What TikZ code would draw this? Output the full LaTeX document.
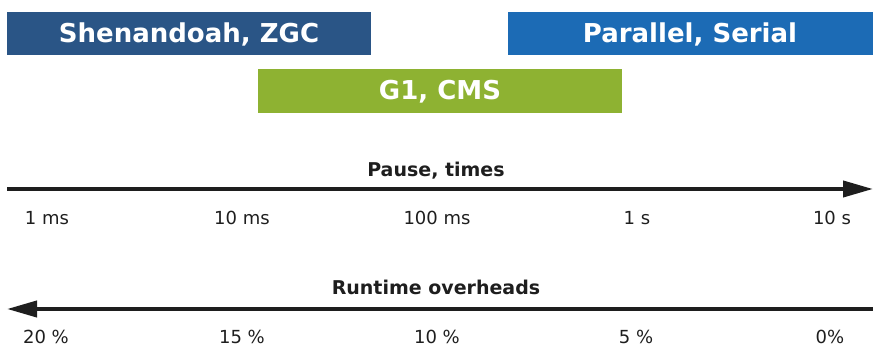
\documentclass[tikz,border=0pt]{standalone}
\usepackage{fontspec}
\setmainfont{DejaVu Sans}
\usetikzlibrary{arrows.meta}
\definecolor{darkblue}{HTML}{2A5586}
\definecolor{midblue}{HTML}{1C6BB5}
\definecolor{gcgreen}{HTML}{8EB232}
\definecolor{axisblack}{HTML}{1E1E1E}
\tikzset{
  gcbox/.style={draw=none, inner sep=0pt, anchor=base, font=\fontsize{26}{30}\selectfont\bfseries, text=white},
  axistitle/.style={inner sep=0pt, anchor=base, font=\fontsize{19}{22}\selectfont\bfseries, text=axisblack},
  ticklabel/.style={inner sep=0pt, anchor=base, font=\fontsize{18}{22}\selectfont, text=axisblack},
  axisline/.style={draw=axisblack, line width=4pt, -{Triangle[length=30pt,width=16pt]}}
}
\begin{document}
\begin{tikzpicture}[x=1pt,y=-1pt]
\useasboundingbox (0,0) rectangle (873,347);
% boxes
\fill[darkblue] (7,12) rectangle (371,55);
\node[gcbox] (shen) at (189,43) {Shenandoah, ZGC};
\fill[midblue] (508,12) rectangle (873,55);
\node[gcbox] (par) at (690,43) {Parallel, Serial};
\fill[gcgreen] (258,69) rectangle (622,113);
\node[gcbox] (g1) at (440,100) {G1, CMS};
% pause axis
\coordinate (p0) at (7,189);
\coordinate (p1) at (873,189);
\draw[axisline] (p0) -- (p1);
\node[axistitle] (ptitle) at (436,177) {Pause, times};
\node[ticklabel] (t1) at (47,225) {1 ms};
\node[ticklabel] (t2) at (242,225) {10 ms};
\node[ticklabel] (t3) at (437,225) {100 ms};
\node[ticklabel] (t4) at (637,225) {1 s};
\node[ticklabel] (t5) at (832,225) {10 s};
% runtime axis
\coordinate (r0) at (873,309);
\coordinate (r1) at (7,309);
\draw[axisline] (r0) -- (r1);
\node[axistitle] (rtitle) at (436,295) {Runtime overheads};
\node[ticklabel] (u1) at (46,344) {20 \%};
\node[ticklabel] (u2) at (242,344) {15 \%};
\node[ticklabel] (u3) at (437,344) {10 \%};
\node[ticklabel] (u4) at (636,344) {5 \%};
\node[ticklabel] (u5) at (830,344) {0\%};
\end{tikzpicture}
\end{document}
